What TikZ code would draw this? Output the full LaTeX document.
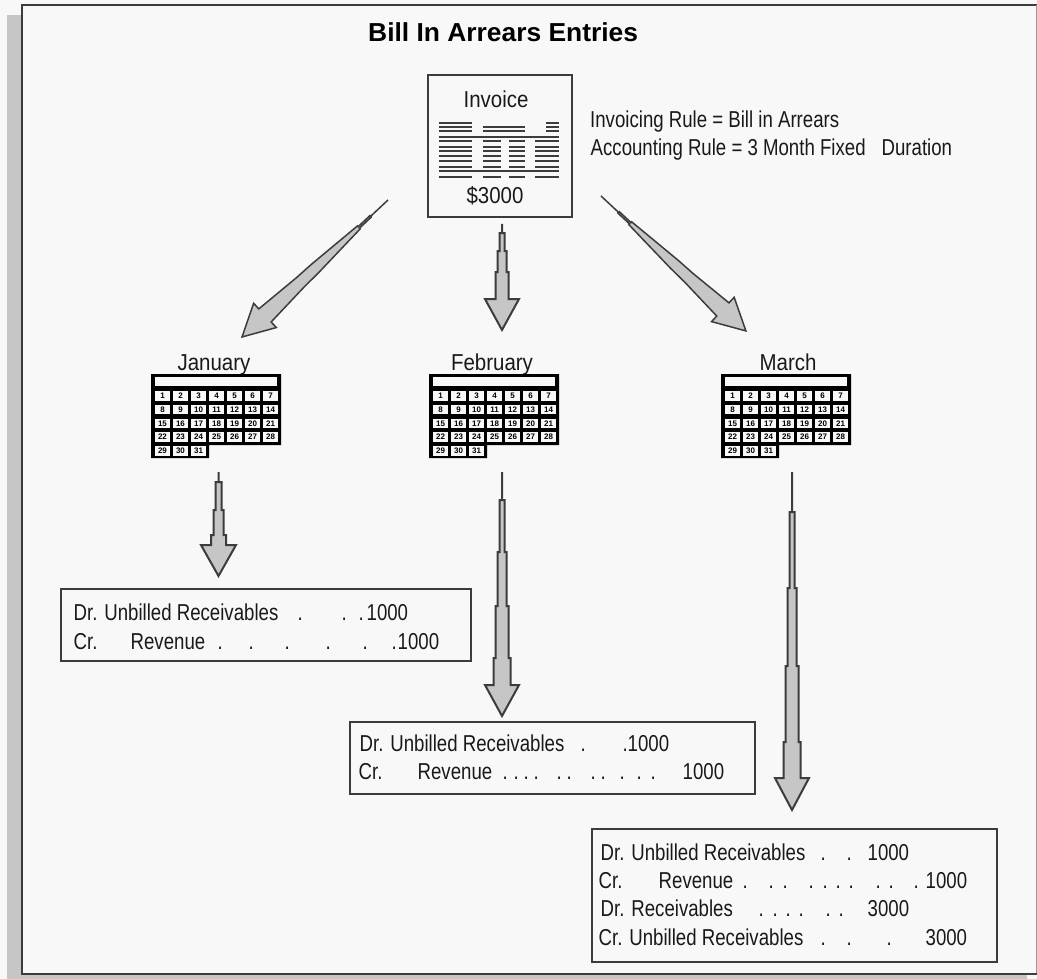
\documentclass[tikz,border=0pt]{standalone}
\usepackage{fontspec}
\setmainfont{Liberation Sans}
\newfontfamily\lab[FakeStretch=0.81]{Liberation Sans}
\newfontfamily\monthf[FakeStretch=0.89]{Liberation Sans}
\newfontfamily\titlef[FakeStretch=1.015]{Liberation Sans Bold}
\usetikzlibrary{calc}
\definecolor{ink}{HTML}{3C3C3C}
\definecolor{greyfill}{HTML}{C6C6C6}
\definecolor{paper}{HTML}{F8F8F8}
\tikzset{
  x=1pt,y=-1pt,
  fatarrow/.style={draw=ink,fill=greyfill,line width=2pt,line join=miter,miter limit=3},
  diagarrow/.style={draw=ink,fill=greyfill,line width=1.5pt,line join=miter,miter limit=3},
  framebox/.style={draw=ink,line width=2pt,fill=paper,inner sep=0pt},
  labeltext/.style={inner sep=0pt,anchor=base west,font=\lab\fontsize{23}{23}\selectfont,text=black!90},
  monthtext/.style={inner sep=0pt,anchor=base,font=\monthf\fontsize{23}{23}\selectfont,text=black!90},
  rowline/.style={draw=ink,line width=1.9pt},
  daytext/.style={inner sep=0pt,font=\bfseries\fontsize{8}{8}\selectfont,text=black},
}
\newcommand\pc[2]{\rlap{\hspace*{\dimexpr#1pt-\ox pt\relax}#2}}
\newcommand\ledger[4]{\node[labeltext] (#1) at (#2,#3) {\def\ox{#2}#4};}
\newcommand\fatpath[3]{%
  \path let \p1=($(#2)-(#1)$) in \pgfextra{\pgfmathsetmacro\angtmp{atan2(\y1,\x1)}\global\let\Ang\angtmp};
  \begin{scope}[shift={(#1)},rotate=\Ang,x=1pt,y=1pt]
    #3
  \end{scope}}
\newcommand\calendarat[2]{%
  \begin{scope}[shift={(#1,0)}]
    \fill[black] (0,374) -- (130,374) -- (130,445) -- (58,445) -- (58,458) -- (0,458) -- cycle;
    \fill[paper] (4,377) rectangle (126,386);
    \foreach \r [count=\ri from 0] in {0,1,2,3,4}{
      \foreach \c in {0,...,6}{
        \pgfmathtruncatemacro\dayn{\r*7+\c+1}
        \ifnum\dayn<32
          \fill[paper] ({4+\c*18},{391+\r*13.8}) rectangle ++(15,9.5);
          \node[daytext] at ({11.5+\c*18},{395.8+\r*13.8}) {\dayn};
        \fi
      }
    }
  \end{scope}}
\begin{document}
\begin{tikzpicture}
\useasboundingbox (0,0) rectangle (1037,979);
\fill[paper] (0,0) rectangle (1037,979);
% shadow and frame
\fill[greyfill] (7,15) rectangle (22,979);
\fill[greyfill] (7,975) rectangle (1027,979);
\draw[ink,line width=2pt] (1037,5) -- (22,5) -- (22,973.5) -- (1037,973.5);
\draw[black!40,line width=1pt] (1036.5,5) -- (1036.5,973);

\node[inner sep=0pt,anchor=base west,font=\titlef\fontsize{26}{26}\selectfont] (title) at (368,42) {Bill In Arrears Entries};

% invoice
\node[framebox,minimum width=144pt,minimum height=142pt] (invoice) at (500,146) {};
\node[monthtext] (invoicelabel) at (496,108) {Invoice};
\node[monthtext] (amount) at (495,204) {\$3000};
\foreach \y in {122.7,126.7,131}{\draw[rowline] (438.7,\y) -- (471.7,\y) (546,\y) -- (559.3,\y);}
\foreach \y in {126.7,131}{\draw[rowline] (482.7,\y) -- (525,\y);}
\foreach \y in {136.7,171}{\draw[rowline] (438.7,\y) -- (559.3,\y);}
\foreach \y in {141,146.7,151,156,160.7,166.7,176.7}{
  \draw[rowline] (438.7,\y) -- (471.7,\y) (482.7,\y) -- (501,\y) (508.7,\y) -- (525,\y) (535,\y) -- (559.3,\y);}

\node[labeltext] (rule1) at (590,128) {Invoicing Rule = Bill in Arrears};
\node[labeltext] (rule2) at (590,156) {\def\ox{590}\pc{590}{Accounting Rule = 3 Month Fixed}\pc{881}{Duration}};

% months
\node[monthtext] (jan) at (214,370) {January};
\node[monthtext] (feb) at (492,370) {February};
\node[monthtext] (mar) at (788,370) {March};
\calendarat{151}{jan}
\calendarat{429}{feb}
\calendarat{721}{mar}

% ledger boxes
\node[framebox,minimum width=410pt,minimum height=72pt] (box1) at (266,625) {};
\node[framebox,minimum width=405pt,minimum height=72pt] (box2) at (552.5,758) {};
\node[framebox,minimum width=405pt,minimum height=133pt] (box3) at (794,895.5) {};

\ledger{b1a}{73}{620}{\pc{73}{Dr. Unbilled Receivables}\pc{297}{.}\pc{341}{.}\pc{358}{.}\pc{366}{1000}}
\ledger{b1b}{73}{649}{\pc{73}{Cr.}\pc{130}{Revenue}\pc{217}{.}\pc{248}{.}\pc{284}{.}\pc{325}{.}\pc{362}{.}\pc{391}{.}\pc{397}{1000}}
\ledger{b2a}{359}{751}{\pc{359}{Dr. Unbilled Receivables}\pc{580}{.}\pc{622}{.}\pc{627}{1000}}
\ledger{b2b}{358}{779}{\pc{358}{Cr.}\pc{417}{Revenue}\pc{502}{.}\pc{513}{.}\pc{523}{.}\pc{533}{.}\pc{556}{.}\pc{566}{.}\pc{590}{.}\pc{600}{.}\pc{619}{.}\pc{636}{.}\pc{650}{.}\pc{682}{1000}}
\ledger{b3a}{600}{860}{\pc{600}{Dr. Unbilled Receivables}\pc{820}{.}\pc{846}{.}\pc{867}{1000}}
\ledger{b3b}{598}{888}{\pc{598}{Cr.}\pc{658}{Revenue}\pc{742}{.}\pc{768}{.}\pc{782}{.}\pc{808}{.}\pc{822}{.}\pc{835}{.}\pc{848}{.}\pc{875}{.}\pc{888}{.}\pc{913}{.}\pc{925}{1000}}
\ledger{b3c}{600}{916}{\pc{600}{Dr. Receivables}\pc{758}{.}\pc{772}{.}\pc{785}{.}\pc{798}{.}\pc{825}{.}\pc{838}{.}\pc{867}{3000}}
\ledger{b3d}{598}{945}{\pc{598}{Cr. Unbilled Receivables}\pc{820}{.}\pc{846}{.}\pc{886}{.}\pc{925}{3000}}

% arrows
\coordinate (a1s) at (388,200); \coordinate (a1t) at (242,337);
\coordinate (a2s) at (502,224); \coordinate (a2t) at (502,330);
\coordinate (a3s) at (601,196); \coordinate (a3t) at (746,331);
\coordinate (a4s) at (218.5,472); \coordinate (a4t) at (218.5,576);
\coordinate (a5s) at (502,472); \coordinate (a5t) at (502,716);
\coordinate (a6s) at (792,472); \coordinate (a6t) at (792,810);

\fatpath{a1s}{a1t}{\draw[diagarrow] (0,0) -- (24,0) -- (24,1) -- (40,1) -- (40,2) -- (100,5.5) -- (120,6) -- (168.7,9) -- (168.7,16.6) -- (200.2,0) -- (168.7,-16.6) -- (168.7,-9) -- (120,-6) -- (100,-5.5) -- (40,-2) -- (40,-1) -- (24,-1) -- (24,0) -- cycle;}
\fatpath{a3s}{a3t}{\draw[diagarrow] (0,0) -- (24,0) -- (24,1) -- (40,1) -- (40,2) -- (100,5.5) -- (120,6) -- (166.5,9) -- (166.5,16.6) -- (198,0) -- (166.5,-16.6) -- (166.5,-9) -- (120,-6) -- (100,-5.5) -- (40,-2) -- (40,-1) -- (24,-1) -- (24,0) -- cycle;}
\fatpath{a2s}{a2t}{\draw[fatarrow] (0,0) -- (9,0) -- (9,2.5) -- (27,2.5) -- (27,4.5) -- (48,4.5) -- (48,6.5) -- (75,6.5) -- (75,17) -- (106,0) -- (75,-17) -- (75,-6.5) -- (48,-6.5) -- (48,-4.5) -- (27,-4.5) -- (27,-2.5) -- (9,-2.5) -- (9,0) -- cycle;}
\fatpath{a4s}{a4t}{\draw[fatarrow] (0,0) -- (10,0) -- (10,3) -- (38,3) -- (38,5) -- (63,5) -- (63,7.5) -- (73,7.5) -- (73,17.5) -- (104,0) -- (73,-17.5) -- (73,-7.5) -- (63,-7.5) -- (63,-5) -- (38,-5) -- (38,-3) -- (10,-3) -- (10,0) -- cycle;}
\fatpath{a5s}{a5t}{\draw[fatarrow] (0,0) -- (28,0) -- (28,2.5) -- (80,2.5) -- (80,4.5) -- (134,4.5) -- (134,6.5) -- (186,6.5) -- (186,8.5) -- (213,8.5) -- (213,17) -- (244,0) -- (213,-17) -- (213,-8.5) -- (186,-8.5) -- (186,-6.5) -- (134,-6.5) -- (134,-4.5) -- (80,-4.5) -- (80,-2.5) -- (28,-2.5) -- (28,0) -- cycle;}
\fatpath{a6s}{a6t}{\draw[fatarrow] (0,0) -- (40,0) -- (40,2.5) -- (116,2.5) -- (116,4.5) -- (194,4.5) -- (194,6.5) -- (270,6.5) -- (270,8.5) -- (306,8.5) -- (306,17) -- (338,0) -- (306,-17) -- (306,-8.5) -- (270,-8.5) -- (270,-6.5) -- (194,-6.5) -- (194,-4.5) -- (116,-4.5) -- (116,-2.5) -- (40,-2.5) -- (40,0) -- cycle;}
\end{tikzpicture}
\end{document}
